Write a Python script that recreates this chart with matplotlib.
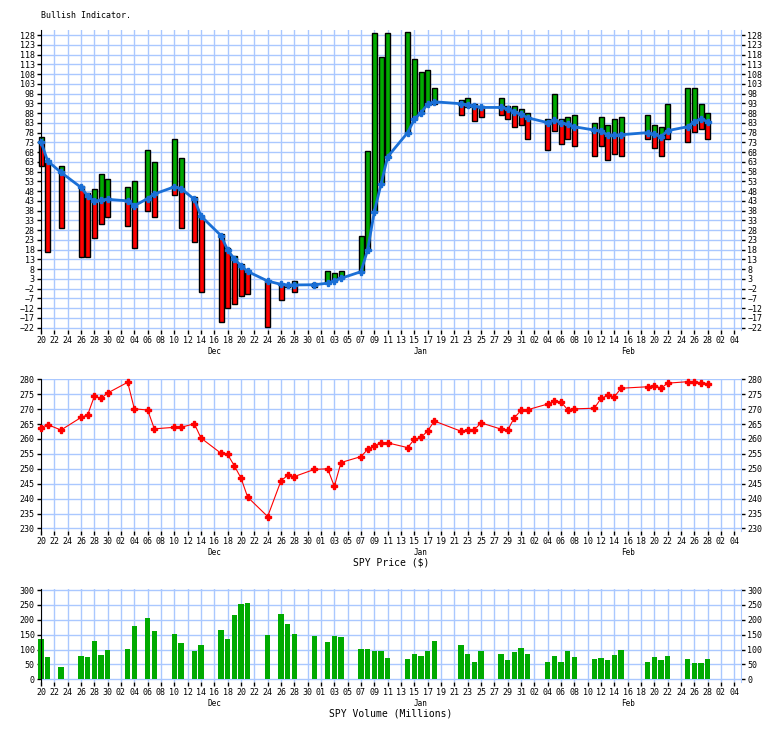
import numpy as np
import matplotlib
matplotlib.use('Agg')
import matplotlib.pyplot as plt

# trading days shown on the chart
dates = ['2018-11-20', '2018-11-21', '2018-11-23', '2018-11-26', '2018-11-27', '2018-11-28', '2018-11-29', '2018-11-30',
         '2018-12-03', '2018-12-04', '2018-12-06', '2018-12-07', '2018-12-10', '2018-12-11', '2018-12-13', '2018-12-14',
         '2018-12-17', '2018-12-18', '2018-12-19', '2018-12-20', '2018-12-21', '2018-12-24', '2018-12-26', '2018-12-27',
         '2018-12-28', '2018-12-31',
         '2019-01-02', '2019-01-03', '2019-01-04', '2019-01-07', '2019-01-08', '2019-01-09', '2019-01-10', '2019-01-11',
         '2019-01-14', '2019-01-15', '2019-01-16', '2019-01-17', '2019-01-18', '2019-01-22', '2019-01-23', '2019-01-24',
         '2019-01-25', '2019-01-28', '2019-01-29', '2019-01-30', '2019-01-31',
         '2019-02-01', '2019-02-04', '2019-02-05', '2019-02-06', '2019-02-07', '2019-02-08', '2019-02-11', '2019-02-12',
         '2019-02-13', '2019-02-14', '2019-02-15', '2019-02-19', '2019-02-20', '2019-02-21', '2019-02-22', '2019-02-25',
         '2019-02-26', '2019-02-27', '2019-02-28']

# bullish indicator: moving average line, bar top and bar bottom
bull_ma = [73.3, 63.4, 57.6, 49.9, 45.5, 42.8, 43.5, 43.8,
           43.0, 40.5, 44.2, 46.5, 50.2, 49.3, 43.8, 35.2,
           25.2, 17.8, 13.2, 9.8, 6.8, 1.9, 0.2, -0.1,
           -0.1, 0.0,
           0.8, 2.0, 3.3, 6.7, 18.0, 37.5, 51.5, 65.6,
           78.0, 84.8, 88.2, 92.6, 93.8, 92.8, 92.3, 91.6,
           90.9, 90.9, 90.1, 88.7, 87.3,
           85.6, 83.1, 84.4, 83.1, 82.2, 81.0, 79.3, 78.8,
           76.7, 76.7, 76.9, 78.0, 77.1, 75.9, 79.0, 81.0,
           83.6, 85.0, 83.6]
bull_hi = [75.5, 63.4, 60.9, 50.8, 46.8, 48.9, 56.6, 54.0,
           49.9, 53.2, 68.9, 62.7, 74.5, 64.8, 44.8, 35.2,
           25.8, 18.7, 14.9, 10.5, 7.5, 1.9, 0.2, -0.1,
           1.9, 0.8,
           7.0, 5.8, 7.0, 25.0, 68.7, 128.9, 116.6, 128.9,
           129.7, 115.5, 108.9, 109.9, 100.7, 94.7, 95.5, 92.6,
           91.5, 95.5, 91.8, 91.8, 89.9,
           87.8, 84.8, 97.6, 84.8, 85.8, 86.8, 82.7, 85.8,
           81.7, 84.8, 85.8, 86.8, 81.7, 80.7, 92.5, 100.7,
           100.7, 92.5, 87.8]
bull_lo = [60.9, 16.6, 28.9, 14.0, 14.0, 23.8, 31.0, 34.5,
           30.1, 18.7, 37.6, 34.5, 45.8, 28.9, 21.7, -3.9,
           -19.3, -12.1, -10.0, -5.8, -4.9, -21.5, -7.8, -1.3,
           -3.9, -1.0,
           0.8, 2.0, 3.3, 6.7, 18.0, 37.5, 51.5, 65.6,
           78.0, 84.8, 88.2, 92.6, 92.6, 87.0, 91.0, 83.9,
           86.1, 87.0, 85.0, 81.0, 81.9,
           74.5, 69.1, 78.8, 72.1, 74.5, 71.1, 66.0, 71.1,
           63.9, 66.8, 66.0, 74.5, 69.9, 66.0, 74.5, 73.0,
           78.5, 79.7, 74.5]

spy_price = [263.8, 264.8, 263.0, 267.2, 268.1, 274.3, 273.6, 275.4,
             279.0, 270.1, 269.7, 263.4, 263.9, 263.9, 265.1, 260.3,
             255.2, 254.8, 251.0, 246.9, 240.5, 234.0, 246.0, 247.8,
             247.4, 249.8,
             250.0, 244.1, 252.1, 254.1, 256.5, 257.8, 258.7, 258.7,
             257.1, 259.9, 260.5, 262.7, 266.0, 262.6, 263.0, 263.1,
             265.4, 263.3, 263.0, 267.1, 269.6,
             269.8, 271.7, 272.7, 272.4, 269.8, 270.1, 270.3, 273.6,
             274.6, 274.1, 277.0, 277.5, 277.9, 277.0, 278.7, 279.2,
             279.0, 278.9, 278.5]

spy_volume = [135, 75, 41, 78, 75, 129, 82, 99,
              102, 179, 206, 162, 152, 122, 95, 115,
              166, 135, 216, 253, 256, 149, 219, 186,
              152, 146,
              125, 146, 142, 102, 102, 95, 95, 72,
              68, 85, 78, 95, 129, 115, 85, 58,
              95, 85, 65, 92, 105,
              85, 58, 78, 58, 95, 75, 68, 72,
              65, 82, 99, 58, 75, 65, 78, 68,
              55, 55, 68]

month_names = ['Dec', 'Jan', 'Feb']
month_dates = ['2018-12-16', '2019-01-16', '2019-02-16']

GRID = '#aac8ff'
MONO = 'DejaVu Sans Mono'

start = np.datetime64('2018-11-20')
days = (np.array(dates, dtype='datetime64[D]') - start).astype(int)
month_days = (np.array(month_dates, dtype='datetime64[D]') - start).astype(int)
tick_days = np.arange(0, 105, 2)
tick_labels = ['%02d' % (start + int(d)).astype(object).day for d in tick_days]


def style_axis(ax, yticks, ylim):
    ax.set_xlim(0, 105)
    ax.set_ylim(*ylim)
    ax.set_xticks(tick_days)
    ax.set_xticklabels(tick_labels)
    ax.set_yticks(yticks)
    ax.grid(True, color=GRID, linewidth=1)
    ax.set_axisbelow(True)
    ax.spines['top'].set_visible(False)
    ax.spines['bottom'].set_visible(False)
    ax.spines['right'].set_color(GRID)
    ax.spines['left'].set_color('black')
    ax.tick_params(axis='both', direction='out', length=3, width=1, labelsize=6, pad=1.5, colors='black')
    ax.tick_params(axis='y', left=True, right=True, labelleft=True, labelright=True)
    for t in ax.get_xticklabels() + ax.yaxis.get_ticklabels(which='both'):
        t.set_family(MONO)
    for name, d in zip(month_names, month_days):
        ax.annotate(name, xy=(d, 0), xycoords=('data', 'axes fraction'), xytext=(0, -15.5),
                    textcoords='offset points', ha='center', va='center', fontsize=5.5, family=MONO)


fig = plt.figure(figsize=(7.84, 7.29), dpi=100)
L, W = 41 / 784, 700 / 784
ax1 = fig.add_axes([L, 1 - 330 / 729, W, 300 / 729])
ax2 = fig.add_axes([L, 1 - 530.7 / 729, W, 151.7 / 729])
ax3 = fig.add_axes([L, 1 - 682 / 729, W, 93 / 729])

### Bullish indicator
ma = np.array(bull_ma)
hi = np.array(bull_hi)
lo = np.array(bull_lo)
up = hi > ma
dn = lo < ma
b1 = ax1.bar(days[up], (hi - ma)[up], bottom=ma[up], width=0.75, color='#00aa00', edgecolor='black', linewidth=1, zorder=2)
b2 = ax1.bar(days[dn], (ma - lo)[dn], bottom=lo[dn], width=0.75, color='#ff0000', edgecolor='black', linewidth=1, zorder=2)
for p in list(b1) + list(b2):
    p.set_clip_on(False)
ax1.plot(days, ma, color='#1a6fd6', linewidth=2.0, marker='P', markersize=4.5, zorder=3, clip_on=False)
style_axis(ax1, np.arange(-22, 129, 5), (-23.2, 130.6))

### SPY price
ax2.plot(days, spy_price, color='#ff0000', linewidth=0.8, marker='P', markersize=5, zorder=3, clip_on=False)
style_axis(ax2, np.arange(230, 281, 5), (229.25, 280.1))

### SPY volume
b3 = ax3.bar(days, spy_volume, width=0.8, color='#00aa00', zorder=2)
for p in b3:
    p.set_clip_on(False)
style_axis(ax3, np.arange(0, 301, 50), (-9, 303.4))

fig.text(41 / 784, 1 - 15 / 729, 'Bullish Indicator.', ha='left', va='center', fontsize=6, family=MONO)
fig.text(391 / 784, 1 - 562.5 / 729, 'SPY Price ($)', ha='center', va='center', fontsize=7, family=MONO)
fig.text(391 / 784, 1 - 713 / 729, 'SPY Volume (Millions)', ha='center', va='center', fontsize=7, family=MONO)

fig.savefig('out.png', dpi=100)
